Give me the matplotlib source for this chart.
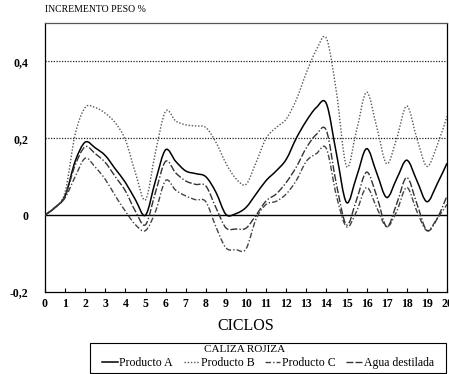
import matplotlib
matplotlib.use('Agg')
import matplotlib.pyplot as plt
import numpy as np
from matplotlib.path import Path
from matplotlib.patches import PathPatch, Rectangle
from matplotlib.lines import Line2D

plt.rcParams['font.family'] = ['Liberation Serif', 'DejaVu Serif']

# Values every half cycle
ciclos = np.arange(0, 20.5, 0.5)
producto_a = [0, 0.02, 0.05, 0.14, 0.19, 0.175, 0.155, 0.12, 0.085, 0.04,
              0.0, 0.09, 0.17, 0.14, 0.115, 0.108, 0.10, 0.06, 0.002, 0.004,
              0.02, 0.055, 0.09, 0.115, 0.145, 0.2, 0.245, 0.28, 0.29, 0.16,
              0.033, 0.10, 0.173, 0.11, 0.046, 0.095, 0.143, 0.09, 0.035, 0.08,
              0.135]
producto_b = [0, 0.02, 0.06, 0.21, 0.28, 0.28, 0.265, 0.24, 0.196, 0.11,
              0.04, 0.165, 0.27, 0.245, 0.235, 0.232, 0.228, 0.19, 0.135, 0.095,
              0.08, 0.137, 0.2, 0.228, 0.25, 0.3, 0.37, 0.43, 0.46, 0.32,
              0.127, 0.22, 0.32, 0.23, 0.134, 0.2, 0.284, 0.2, 0.127, 0.18,
              0.257]
producto_c = [0, 0.02, 0.045, 0.1, 0.148, 0.125, 0.093, 0.05, 0.01, -0.025,
              -0.04, 0.01, 0.09, 0.065, 0.05, 0.04, 0.035, -0.03, -0.085, -0.09,
              -0.088, -0.01, 0.028, 0.036, 0.055, 0.09, 0.14, 0.16, 0.173, 0.05,
              -0.03, 0.01, 0.072, 0.02, -0.03, 0.01, 0.072, 0.01, -0.04, -0.01,
              0.028]
agua_destilada = [0, 0.02, 0.05, 0.13, 0.178, 0.16, 0.137, 0.1, 0.063, 0.01,
                  -0.025, 0.06, 0.14, 0.11, 0.089, 0.08, 0.076, 0.02, -0.033, -0.036,
                  -0.034, 0.0, 0.037, 0.055, 0.085, 0.125, 0.175, 0.21, 0.22, 0.08,
                  -0.025, 0.04, 0.112, 0.05, -0.03, 0.03, 0.098, 0.03, -0.04, -0.01,
                  0.05]

etiquetas = ['Producto A', 'Producto B', 'Producto C', 'Agua destilada']
estilos = [
    dict(color='black', lw=1.1, ls='-'),
    dict(color='#555555', lw=1.0, ls=(0, (1, 1.3))),
    dict(color='#444444', lw=1.0, ls=(0, (4, 1.5, 1, 1.5))),
    dict(color='#333333', lw=1.0, ls=(0, (5, 1.5, 5, 1.5, 1, 1.5))),
]


def smooth_path(x, y):
    # Catmull-Rom through the read points, drawn as cubic Bezier segments
    pts = np.column_stack([x, y])
    n = len(pts)
    verts = [pts[0]]
    codes = [Path.MOVETO]
    for i in range(n - 1):
        p0 = pts[max(i - 1, 0)]
        p1 = pts[i]
        p2 = pts[i + 1]
        p3 = pts[min(i + 2, n - 1)]
        verts += [p1 + (p2 - p0) / 6, p2 - (p3 - p1) / 6, p2]
        codes += [Path.CURVE4] * 3
    return Path(verts, codes)


fig = plt.figure(figsize=(4.49, 3.74), dpi=100)
fig.patch.set_facecolor('white')
ax = fig.add_axes([45 / 449, 82 / 374, 402 / 449, 269 / 374])

ax.set_xlim(0, 20)
ax.set_ylim(-0.2, 0.5)

for y in (0.2, 0.4):
    ax.axhline(y, color='#222222', lw=0.9, ls=(0, (1, 1.2)), zorder=1)
ax.axhline(0, color='black', lw=1.0, zorder=1)

series = [producto_a, producto_b, producto_c, agua_destilada]
handles = []
for vals, st, lab in zip(series, estilos, etiquetas):
    patch = PathPatch(smooth_path(ciclos, vals), fill=False, edgecolor=st['color'],
                      lw=st['lw'], linestyle=st['ls'], capstyle='butt', zorder=3)
    ax.add_patch(patch)
    handles.append(Line2D([], [], color=st['color'], lw=st['lw'], ls=st['ls'], label=lab))

for s in ax.spines.values():
    s.set_color('black')
    s.set_linewidth(0.9)
ax.spines['top'].set_color('#555555')

ax.set_xticks(range(21))
ax.tick_params(axis='x', direction='in', length=3, width=0.8, pad=4, labelsize=8.5)
for lbl in ax.get_xticklabels():
    lbl.set_fontweight('bold')
ax.set_yticks([-0.2, 0, 0.2, 0.4])
ax.set_yticklabels(['-0,2', '0', '0,2', '0,4'])
ax.tick_params(axis='y', length=0, pad=12, labelsize=8.5)
for lbl in ax.get_yticklabels():
    lbl.set_fontweight('bold')

fig.text(45 / 449, 1 - 10 / 374, 'INCREMENTO PESO %', ha='left', va='center', fontsize=7)
fig.text(246 / 449, 1 - 326 / 374, 'CICLOS', ha='center', va='center', fontsize=11.5)

# Legend box at the bottom
fig.patches.append(Rectangle((90 / 449, 1 / 374), 356 / 449, 30 / 374,
                             transform=fig.transFigure, fill=False,
                             edgecolor='black', lw=0.8))
fig.text(245 / 449, 1 - 350 / 374, 'CALIZA ROJIZA', ha='center', va='center', fontsize=8)
fig.legend(handles=handles, loc='center', bbox_to_anchor=(268 / 449, 1 - 363 / 374),
           bbox_transform=fig.transFigure, ncol=4, frameon=False, fontsize=8.5,
           handlelength=1.3, handletextpad=0.15, columnspacing=0.9,
           borderpad=0, borderaxespad=0)

fig.savefig('out.png', dpi=100, facecolor='white')
